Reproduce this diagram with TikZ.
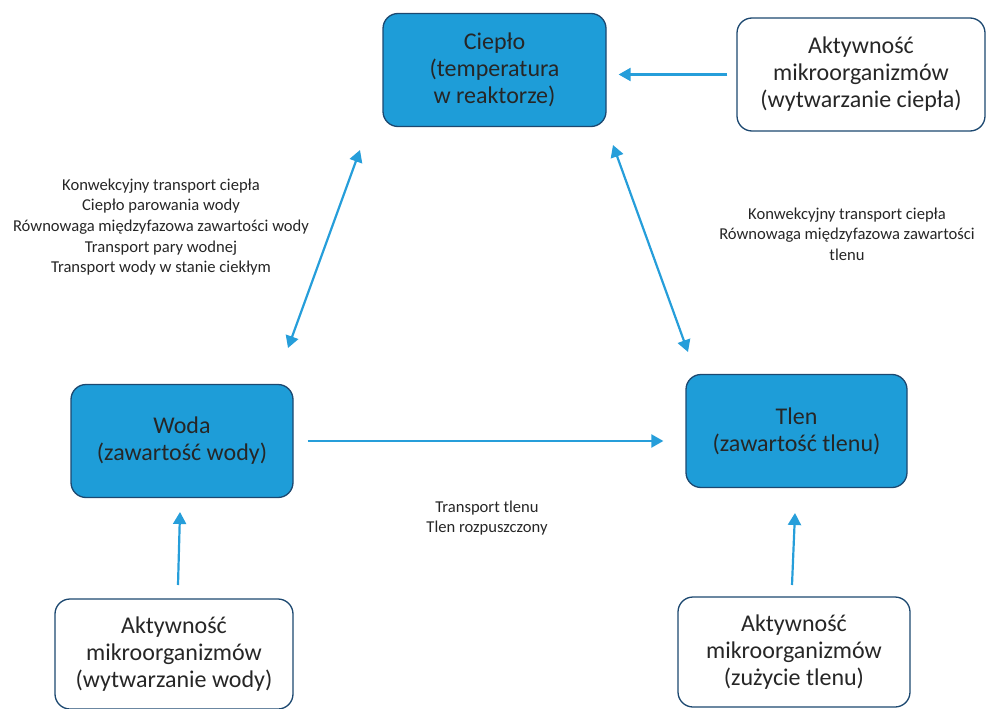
\documentclass[tikz,border=0pt]{standalone}
\usepackage{fontspec}
\setmainfont{Carlito}
\usetikzlibrary{arrows.meta,positioning,calc}
\definecolor{boxblue}{RGB}{30,157,216}
\definecolor{edgeblue}{RGB}{28,72,112}
\definecolor{arrowblue}{RGB}{38,158,218}
\definecolor{textgray}{RGB}{38,38,38}
\tikzset{
    mainbox/.style={draw=edgeblue, line width=1.3pt, fill=boxblue, rounded corners=15pt,
        minimum width=222pt, minimum height=113pt, align=center, text=textgray,
        font=\fontsize{24}{27}\selectfont},
    sourcebox/.style={mainbox, fill=white},
    flow/.style={draw=arrowblue, line width=2.2pt, -{Triangle[length=12pt,width=13pt]}},
    twoway/.style={flow, {Triangle[length=12pt,width=13pt]}-{Triangle[length=12pt,width=13pt]}},
    note/.style={align=center, text=textgray, font=\fontsize{16.6}{20.7}\selectfont}
}

\begin{document}
\begin{tikzpicture}[x=1pt, y=-1pt]
    \useasboundingbox (0,0) rectangle (986,709);

    % state boxes
    \node[mainbox, minimum width=223pt] (cieplo) at (494.5,70) {Ciepło\\(temperatura\\w reaktorze)};
    \node[mainbox] (woda) at (182,441) {Woda\\(zawartość wody)};
    \node[mainbox, minimum width=221pt] (tlen) at (796.5,431) {Tlen\\(zawartość tlenu)};

    % microbial activity
    \node[sourcebox, minimum width=248pt] (aktc) at (861,74.5) {Aktywność\\mikroorganizmów\\(wytwarzanie ciepła)};
    \node[sourcebox, minimum width=238pt, minimum height=110pt] (aktw) at (174,654) {Aktywność\\mikroorganizmów\\(wytwarzanie wody)};
    \node[sourcebox, minimum width=232pt, minimum height=110pt] (aktt) at (794,652) {Aktywność\\mikroorganizmów\\(zużycie tlenu)};

    % arrow ends
    \coordinate (lw) at (288,348);
    \coordinate (lc) at (360,150);
    \coordinate (rc) at (613,145);
    \coordinate (rt) at (688,352);
    \coordinate (aw) at (178,585);
    \coordinate (ew) at (180,512);
    \coordinate (at) at (792,585);
    \coordinate (et) at (795,513);

    \draw[flow, shorten <=9pt, shorten >=12pt] (aktc.west) -- (aktc.west -| cieplo.east);
    \draw[twoway] (lw) -- (lc);
    \draw[twoway] (rc) -- (rt);
    \draw[flow, shorten <=14pt, shorten >=22pt] (woda.east) -- (woda.east -| tlen.west);
    \draw[flow] (aw) -- (ew);
    \draw[flow] (at) -- (et);

    % process labels
    \node[note] (lbl1) at (161,227) {Konwekcyjny transport ciepła\\Ciepło parowania wody\\Równowaga międzyfazowa zawartości wody\\Transport pary wodnej\\Transport wody w stanie ciekłym};
    \node[note] (lbl2) at (847,234) {Konwekcyjny transport ciepła\\Równowaga międzyfazowa zawartości\\tlenu};
    \node[note] (lbl3) at (487,518) {Transport tlenu\\Tlen rozpuszczony};
\end{tikzpicture}
\end{document}
